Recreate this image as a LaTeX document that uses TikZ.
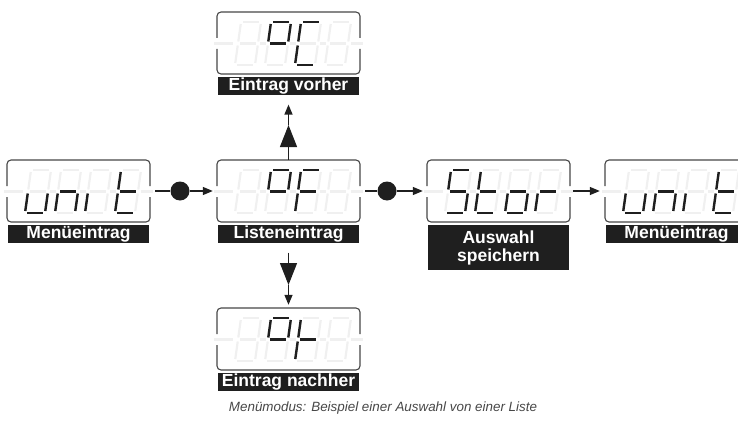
\documentclass[tikz,border=0pt]{standalone}
\usepackage{fontspec}
\setmainfont{Liberation Sans}
\usetikzlibrary{arrows.meta,calc}

% endpoints of the seven segments of one digit (origin at bottom left, y downwards)
\newcommand\segpts[1]{%
  \def\segfrom{}\def\segto{}%
  \if a#1\def\segfrom{2,-43}\def\segto{18,-43}\fi
  \if b#1\def\segfrom{20,-41}\def\segto{20,-23.5}\fi
  \if c#1\def\segfrom{20,-19.5}\def\segto{20,-2}\fi
  \if d#1\def\segfrom{2,0}\def\segto{18,0}\fi
  \if e#1\def\segfrom{0,-19.5}\def\segto{0,-2}\fi
  \if f#1\def\segfrom{0,-41}\def\segto{0,-23.5}\fi
  \if g#1\def\segfrom{2,-21.5}\def\segto{18,-21.5}\fi
}

% one slanted digit: all segments pale, the listed ones dark
\newcommand\sevendigit[3]{%
  \begin{scope}[shift={(#1,#2)}, xslant=0.14]
    \foreach \s in {a,b,c,d,e,f,g}{\segpts{\s}\draw[ghostseg] (\segfrom) -- (\segto);}
    \foreach \s in {#3}{\segpts{\s}\ifx\segfrom\empty\else\draw[litseg] (\segfrom) -- (\segto);\fi}
  \end{scope}}

% a four digit display window: name, left, top, four segment lists
\newcommand\lcdpanel[7]{%
  \node[panelbox] (#1) at ({#2+71.5},{#3+31}) {};
  \draw[frameline] (#2,#3+26) -- (#2,#3) -- (#2+143,#3) -- (#2+143,#3+26);
  \draw[frameline] (#2,#3+37) -- (#2,#3+62) -- (#2+143,#3+62) -- (#2+143,#3+37);
  \draw[ghostseg] (#2-3,#3+31.5) -- (#2+16,#3+31.5);
  \foreach \i in {0,1,2}{\draw[ghostseg] (#2+43+30*\i,#3+31.5) -- (#2+49+30*\i,#3+31.5);}
  \draw[ghostseg] (#2+134,#3+31.5) -- (#2+146,#3+31.5);
  \sevendigit{#2+18}{#3+53}{#4}
  \sevendigit{#2+48}{#3+53}{#5}
  \sevendigit{#2+78}{#3+53}{#6}
  \sevendigit{#2+108}{#3+53}{#7}
}

\tikzset{
  ghostseg/.style={line width=2.2pt, draw=black!6},
  litseg/.style={line width=2.4pt, draw=black!88},
  frameline/.style={draw=black!72, line width=1.1pt, rounded corners=4pt},
  panelbox/.style={rectangle, minimum width=143pt, minimum height=62pt, inner sep=0pt},
  labelbar/.style={rectangle, fill=black!88, text=white, anchor=north,
    font=\bfseries\fontsize{17.5}{19}\selectfont, align=center,
    minimum width=141pt, minimum height=18pt, inner sep=0pt},
  joint/.style={circle, fill=black!88, minimum size=19pt, inner sep=0pt},
  flow/.style={line width=1.3pt, draw=black!88},
  tipsmall/.style={-{Triangle[length=10pt,width=8pt]}},
  tipbig/.style={-{Triangle[length=22pt,width=17pt]}},
}

\begin{document}
\begin{tikzpicture}[x=1pt,y=-1pt]
\useasboundingbox (0,0) rectangle (738,428);
\clip (0,0) rectangle (738,428);

% display windows
\lcdpanel{menuA}{7}{160}{c,d,e}{c,e,g}{e}{d,e,f,g}
\lcdpanel{entryC}{217}{12}{x}{a,b,f,g}{a,d,e,f}{x}
\lcdpanel{entryF}{217}{160}{x}{a,b,f,g}{a,e,f,g}{x}
\lcdpanel{entryK}{217}{308}{x}{a,b,f,g}{e,f,g}{x}
\lcdpanel{store}{427}{160}{a,c,d,f,g}{d,e,f,g}{c,d,e,g}{e,g}
\lcdpanel{menuB}{605}{160}{c,d,e}{c,e,g}{e}{d,e,f,g}

% captions under the windows
\node[labelbar] (menuA-lab) at ($(menuA.south)+(0,3)$) {Menüeintrag};
\node[labelbar] (entryC-lab) at ($(entryC.south)+(0,3)$) {Eintrag vorher};
\node[labelbar] (entryF-lab) at ($(entryF.south)+(0,3)$) {Listeneintrag};
\node[labelbar] (entryK-lab) at ($(entryK.south)+(0,3)$) {Eintrag nachher};
\node[labelbar, minimum height=45pt] (store-lab) at ($(store.south)+(0,3)$) {Auswahl\\[-1pt]speichern};
\node[labelbar] (menuB-lab) at ($(menuB.south)+(0,3)$) {Menüeintrag};

% horizontal flow
\node[joint] (j1) at (180,191) {};
\node[joint] (j2) at (387,191) {};
\draw[flow, shorten <=5pt] (menuA.east) -- (j1);
\draw[flow, tipsmall, shorten >=4pt] (j1) -- (entryF.west);
\draw[flow, shorten <=5pt] (entryF.east) -- (j2);
\draw[flow, tipsmall, shorten >=4pt] (j2) -- (store.west);
\draw[flow, tipsmall, shorten <=3pt, shorten >=5pt] (store.east) -- (menuB.west);

% vertical flow
\coordinate (upmid) at (288.5,125);
\coordinate (downmid) at (288.5,285);
\draw[flow, tipbig] (entryF.north) -- (upmid);
\draw[flow, tipsmall, shorten >=9pt] (upmid) -- (entryC-lab.south);
\draw[flow, tipbig, shorten <=9pt] (entryF-lab.south) -- (downmid);
\draw[flow, tipsmall, shorten >=3pt] (downmid) -- (entryK.north);

\node[font=\itshape\fontsize{13.4}{15}\selectfont, text=black!72] (caption) at (383,408)
  {Menümodus: Beispiel einer Auswahl von einer Liste};
\end{tikzpicture}
\end{document}
